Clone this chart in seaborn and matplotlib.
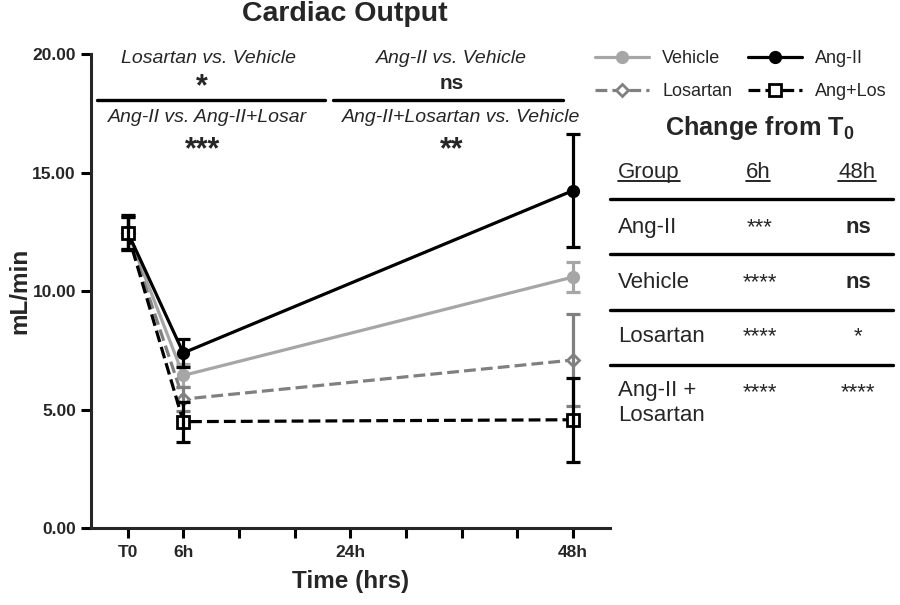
#Cardiac output over time, four treatment groups

import pandas as pd
import seaborn as sns
import matplotlib.pyplot as plt
from matplotlib.lines import Line2D

#time points (hrs) and x ticks
hours = [0, 6, 48]
tick_hours = [0, 6, 12, 18, 24, 30, 36, 42, 48]
tick_labels = ["T0", "6h", "", "", "24h", "", "", "", "48h"]
y_ticks = [0, 5, 10, 15, 20]

#group means and errors (mL/min)
groups = ["Vehicle", "Losartan", "Ang-II", "Ang+Los"]
vehicle = [12.5, 6.45, 10.6]
vehicle_err = [0.7, 0.5, 0.65]
losartan = [12.45, 5.45, 7.1]
losartan_err = [0.7, 0.5, 1.95]
ang2 = [12.5, 7.4, 14.25]
ang2_err = [0.7, 0.6, 2.37]
anglos = [12.45, 4.5, 4.58]
anglos_err = [0.7, 0.85, 1.77]

#comparison table
table_groups = ["Ang-II", "Vehicle", "Losartan", "Ang-II +\nLosartan"]
sig_6h = ["***", "****", "****", "****"]
sig_48h = ["ns", "ns", "*", "****"]

#styles per group
colors = ["#a6a6a6", "#808080", "black", "black"]
line_styles = ["-", "--", "-", "--"]
markers = ["o", "D", "o", "s"]
face_colors = ["#a6a6a6", "white", "black", "white"]
marker_sizes = [7.5, 6.5, 7.5, 8]

means = [vehicle, losartan, ang2, anglos]
errs = [vehicle_err, losartan_err, ang2_err, anglos_err]

rows = []
for g, vals in zip(groups, means):
    for h, v in zip(hours, vals):
        rows.append({"group": g, "hours": h, "output": v})
df = pd.DataFrame(rows)

sns.set_style("ticks")
plt.rcParams["font.family"] = ["Liberation Sans", "DejaVu Sans"]
plt.rcParams["mathtext.fontset"] = "custom"
plt.rcParams["mathtext.rm"] = "Liberation Sans"
plt.rcParams["mathtext.bf"] = "Liberation Sans:bold"
plt.rcParams["mathtext.it"] = "Liberation Sans:italic"

fig = plt.figure(figsize=(9, 6.05), dpi=100)
ax = fig.add_axes([0.1006, 0.1268, 0.5772, 0.7834])

handles = []
for g, c, ls, m, fc, ms, e in zip(groups, colors, line_styles, markers,
                                   face_colors, marker_sizes, errs):
    sub = df[df["group"] == g]
    sns.lineplot(data=sub, x="hours", y="output", color=c, ls=ls, lw=2.3,
                 marker=m, ms=ms, mfc=fc, mec=c, mew=2, ax=ax)
    ax.errorbar(sub["hours"], sub["output"], yerr=e, fmt="none", ecolor=c,
                elinewidth=2.3, capsize=5, capthick=2.3)
    handles.append(Line2D([], [], color=c, ls=ls, lw=2.3, marker=m, ms=ms,
                          mfc=fc, mec=c, mew=2))

ax.set_xlim(-4, 52)
ax.set_ylim(0, 20)
ax.set_xticks(tick_hours)
ax.set_xticklabels(tick_labels)
ax.set_yticks(y_ticks)
ax.set_yticklabels(["%.2f" % t for t in y_ticks])
for lab in ax.get_xticklabels() + ax.get_yticklabels():
    lab.set_fontweight("bold")
ax.tick_params(width=2.2, length=7, labelsize=12.5, color="black")
ax.tick_params(axis="x", pad=5)
sns.despine(ax=ax)
ax.spines["left"].set_linewidth(2.2)
ax.spines["bottom"].set_linewidth(2.2)
ax.set_xlabel("Time (hrs)", fontsize=17.5, fontweight="bold", labelpad=7)
ax.set_ylabel("mL/min", fontsize=17.5, fontweight="bold", labelpad=1)

fig.text(345 / 900, 1 - 14 / 605, "Cardiac Output", ha="center", va="center",
         fontsize=20.5, fontweight="bold")

#comparison labels above the lines
ax.plot([-3.3, 21.3], [18.07, 18.07], color="black", lw=2.4, clip_on=False)
ax.plot([22.1, 46.9], [18.07, 18.07], color="black", lw=2.4, clip_on=False)
ax.text(8.7, 19.84, "Losartan vs. Vehicle", ha="center", va="center",
        fontsize=14, style="italic")
ax.text(8.0, 18.6, "*", ha="center", va="center", fontsize=22, fontweight="bold")
ax.text(34.9, 19.84, "Ang-II vs. Vehicle", ha="center", va="center",
        fontsize=14, style="italic")
ax.text(34.95, 18.75, "ns", ha="center", va="center", fontsize=15,
        fontweight="bold")
ax.text(8.66, 17.35, "Ang-II vs. Ang-II+Losar", ha="center", va="center",
        fontsize=14, style="italic")
ax.text(8.1, 15.95, "***", ha="center", va="center", fontsize=22,
        fontweight="bold")
ax.text(35.9, 17.35, "Ang-II+Losartan vs. Vehicle", ha="center", va="center",
        fontsize=14, style="italic")
ax.text(34.9, 15.95, "**", ha="center", va="center", fontsize=22,
        fontweight="bold")

fig.legend(handles, groups, ncol=2, loc="upper left",
           bbox_to_anchor=(588 / 900, 1 - 43 / 605), frameon=False,
           fontsize=13, handlelength=3, handletextpad=0.7,
           columnspacing=0.9, labelspacing=0.88, borderaxespad=0)

#table of changes from T0 (pixel-like coordinates)
tax = fig.add_axes([600 / 900, 1 - 450 / 605, 300 / 900, 350 / 605])
tax.set_xlim(600, 900)
tax.set_ylim(450, 100)
tax.axis("off")
tax.text(760, 128, r"Change from $\mathbf{T_0}$", ha="center", va="center",
         fontsize=18.2, fontweight="bold")
headers = [tax.text(618, 173, "Group", ha="left", va="center", fontsize=16),
           tax.text(758, 173, "6h", ha="center", va="center", fontsize=16),
           tax.text(857, 173, "48h", ha="center", va="center", fontsize=16)]
for y in [199, 254, 310, 365]:
    tax.axhline(y, xmin=10 / 300, xmax=293 / 300, color="black", lw=2.4)

row_y = [228, 283, 337, 393]
for name, s6, s48, y in zip(table_groups, sig_6h, sig_48h, row_y):
    if "\n" in name:
        tax.text(618, y - 13, name, ha="left", va="top", fontsize=16,
                 linespacing=1.25)
    else:
        tax.text(618, y, name, ha="left", va="center", fontsize=16)
    tax.text(760, y, s6, ha="center", va="center", fontsize=16)
    tax.text(858, y, s48, ha="center", va="center", fontsize=16,
             fontweight="bold" if s48 == "ns" else "normal")

#underline the table headers
fig.canvas.draw()
inv = tax.transData.inverted()
for t in headers:
    bb = t.get_window_extent()
    (x0, y0), (x1, _) = inv.transform([[bb.x0, bb.y0], [bb.x1, bb.y1]])
    tax.plot([x0, x1], [y0 - 2, y0 - 2], color="black", lw=1.2)

plt.savefig("out.png", dpi=100)
